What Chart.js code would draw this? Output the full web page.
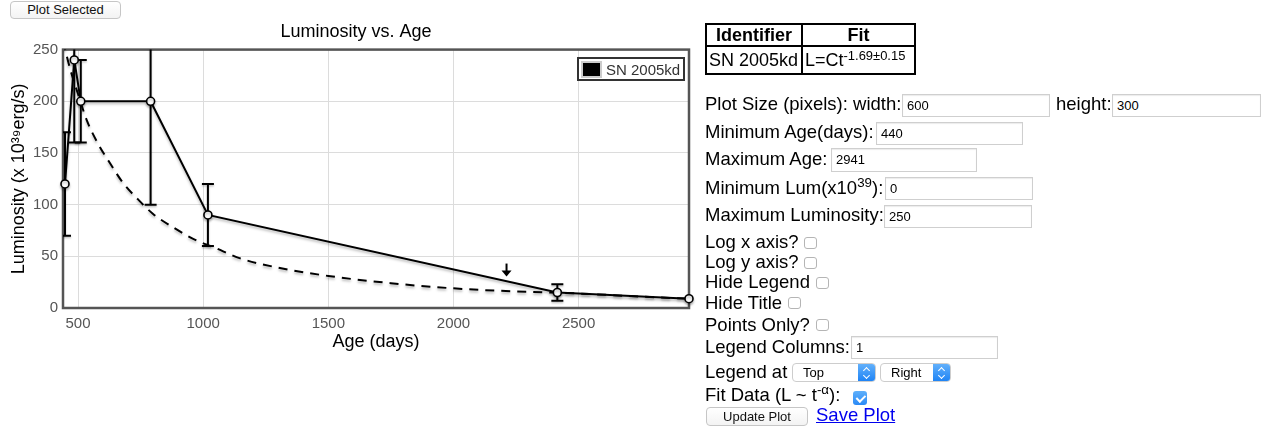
<!DOCTYPE html>
<html><head><meta charset="utf-8">
<script src="https://cdn.jsdelivr.net/npm/chart.js@4.4.0/dist/chart.umd.min.js"></script>
<style>
body{margin:0;width:1261px;height:427px;overflow:hidden;background:#fff;font-family:"Liberation Sans",Arial,Helvetica,sans-serif;position:relative;color:#000}
.btn{position:absolute;box-sizing:border-box;border:1px solid #c6c6c6;border-radius:4px;background:linear-gradient(#fff,#f3f3f3);font-size:13px;text-align:center;color:#111}
#cv{position:absolute;left:0;top:19px}
.legend{position:absolute;left:577px;top:57px;width:108px;height:24px;box-sizing:border-box;border:2px solid #333;background:#fff;font-size:15px;color:#333}
.legend .sw{position:absolute;left:2px;top:2px;width:21px;height:17px;box-sizing:border-box;border:2px solid #ccc;background:#000}
.legend .tx{position:absolute;left:27px;top:2px;line-height:17px;white-space:nowrap}
table{position:absolute;left:705px;top:23px;border-collapse:collapse;font-size:18px}
td,th{border:2px solid #000;padding:0 2px;white-space:nowrap}
th{font-weight:bold;height:20px;line-height:20px}
td{height:26px;line-height:20px}
sup{font-size:0.72em;line-height:0;vertical-align:0.5em}
.row{position:absolute;left:705px;font-size:18.5px;line-height:22px;white-space:nowrap}
.inp{position:absolute;box-sizing:border-box;border:1px solid #cfcfcf;box-shadow:inset 0 1px 1px rgba(0,0,0,0.08);font-size:13px;padding-left:4px;background:#fff;color:#000}
.cb{position:absolute;width:13px;height:12px;box-sizing:border-box;border:1px solid #b5b5b5;border-radius:3px;background:#fff}
.cbon{position:absolute;width:14px;height:14px;border-radius:3px;background:linear-gradient(#5fb0fb,#2a8af6)}
.cbon i{position:absolute;left:4.5px;top:1.5px;width:3.5px;height:7px;border-right:2px solid #fff;border-bottom:2px solid #fff;transform:rotate(45deg)}
.sel{position:absolute;box-sizing:border-box;border:1px solid #cdcdcd;border-radius:4px;background:#fff;font-size:13px;overflow:hidden}
.sel span{position:absolute;left:10px;top:1px}
.sel b{position:absolute;right:0;top:0;width:17px;height:100%;background:linear-gradient(#62b0fb,#1f84f5)}
.sel b:before,.sel b:after{content:"";position:absolute;left:5.5px;width:4px;height:4px;border-left:1.5px solid #fff;border-top:1.5px solid #fff}
.sel b:before{top:4px;transform:rotate(45deg)}
.sel b:after{top:9px;transform:rotate(225deg)}
a{color:#0000ee}
</style></head><body>
<div class="btn" style="left:10px;top:1px;width:111px;height:18px;line-height:16px">Plot Selected</div>
<canvas id="cv" width="712" height="345"></canvas>
<div class="legend"><div class="sw"></div><div class="tx">SN 2005kd</div></div>

<table>
<tr><th style="width:90px">Identifier</th><th style="width:107px">Fit</th></tr>
<tr><td>SN 2005kd</td><td>L=Ct<sup>-1.69±0.15</sup></td></tr>
</table>

<div class="row" style="top:93px">Plot Size (pixels): width:</div>
<div class="inp" style="left:902px;top:94px;width:148px;height:23px;line-height:21px">600</div>
<div class="row" style="left:1056px;top:93px">height:</div>
<div class="inp" style="left:1112px;top:94px;width:149px;height:23px;line-height:21px">300</div>

<div class="row" style="top:121px">Minimum Age(days):</div>
<div class="inp" style="left:876px;top:122px;width:147px;height:23px;line-height:21px">440</div>

<div class="row" style="top:148px">Maximum Age:</div>
<div class="inp" style="left:831px;top:148px;width:146px;height:24px;line-height:22px">2941</div>

<div class="row" style="top:177px">Minimum Lum(x10<sup>39</sup>):</div>
<div class="inp" style="left:885px;top:177px;width:148px;height:23px;line-height:21px">0</div>

<div class="row" style="top:204px">Maximum Luminosity:</div>
<div class="inp" style="left:884px;top:205px;width:148px;height:23px;line-height:21px">250</div>

<div class="row" style="top:231px">Log x axis?</div>
<div class="cb" style="left:804px;top:237px"></div>
<div class="row" style="top:251px">Log y axis?</div>
<div class="cb" style="left:804px;top:257px"></div>
<div class="row" style="top:271px">Hide Legend</div>
<div class="cb" style="left:816px;top:277px"></div>
<div class="row" style="top:292px">Hide Title</div>
<div class="cb" style="left:788px;top:297px"></div>
<div class="row" style="top:314px">Points Only?</div>
<div class="cb" style="left:816px;top:319px"></div>

<div class="row" style="top:336px">Legend Columns:</div>
<div class="inp" style="left:851px;top:336px;width:147px;height:23px;line-height:21px">1</div>

<div class="row" style="top:361px">Legend at</div>
<div class="sel" style="left:792px;top:363px;width:84px;height:19px"><span>Top</span><b></b></div>
<div class="sel" style="left:880px;top:363px;width:71px;height:19px"><span>Right</span><b></b></div>

<div class="row" style="top:384px">Fit Data (L ~ t<sup>-α</sup>):</div>
<div class="cbon" style="left:853px;top:391px"><i></i></div>

<div class="btn" style="left:706px;top:407px;width:102px;height:19px;line-height:17px">Update Plot</div>
<div class="row" style="left:816px;top:404px"><a href="#">Save Plot</a></div>

<script>
// ---- data ----
const ages    = [448, 485, 511, 790, 1019, 2415, 2941];
const lum     = [120, 240, 200, 200, 90, 15, 9];
const errLow  = [70, 160, 160, 100, 60, 7, null];
const errHigh = [170, 300, 240, 300, 120, 23, null];
const limitAges = [2212];
const limitLum  = [43];
const fitAges = [440, 470, 500, 536, 580, 628, 680, 736, 800, 880, 976, 1040, 1148, 1300, 1500, 1750, 2000, 2250, 2500, 2750, 2941];
const fitLum  = [258, 230, 207, 181, 159, 140, 121, 106, 91, 78, 65, 59, 48, 39, 31, 24, 19, 16, 14, 11, 9];
const xTicks = [500, 1000, 1500, 2000, 2500];
const yTicks = [0, 50, 100, 150, 200, 250];

Chart.defaults.font.family = '"Liberation Sans", Arial, Helvetica, sans-serif';

const boxAndErrors = {
  id: 'boxAndErrors',
  beforeDatasetsDraw(chart) {
    const {ctx, chartArea: a, scales: {x, y}} = chart;
    ctx.save();
    ctx.strokeStyle = '#555';
    ctx.lineWidth = 2.5;
    ctx.strokeRect(a.left, a.top, a.right - a.left, a.bottom - a.top);
    ctx.beginPath();
    ctx.rect(a.left, a.top, a.right - a.left, a.bottom - a.top);
    ctx.clip();
    ctx.shadowColor = 'rgba(0,0,0,0.25)';
    ctx.shadowBlur = 2; ctx.shadowOffsetY = 1.5;
    ctx.strokeStyle = '#000';
    ctx.lineWidth = 2;
    ages.forEach((t, i) => {
      if (errLow[i] == null) return;
      const px = x.getPixelForValue(t);
      const p1 = y.getPixelForValue(errLow[i]);
      const p2 = y.getPixelForValue(errHigh[i]);
      ctx.beginPath();
      ctx.moveTo(px, p1); ctx.lineTo(px, p2);
      ctx.moveTo(px - 6, p1); ctx.lineTo(px + 6, p1);
      ctx.moveTo(px - 6, p2); ctx.lineTo(px + 6, p2);
      ctx.stroke();
    });
    ctx.restore();
  },
  beforeDatasetDraw(chart, args) {
    const ctx = chart.ctx;
    ctx.save();
    ctx.shadowColor = 'rgba(0,0,0,0.28)';
    ctx.shadowBlur = 2.5; ctx.shadowOffsetY = 2;
  },
  afterDatasetDraw(chart) { chart.ctx.restore(); },
  afterDatasetsDraw(chart) {
    const {ctx, scales: {x, y}} = chart;
    ctx.save();
    ctx.fillStyle = '#000'; ctx.strokeStyle = '#000'; ctx.lineWidth = 2;
    limitAges.forEach((t, i) => {
      const px = x.getPixelForValue(t), py = y.getPixelForValue(limitLum[i]);
      ctx.beginPath(); ctx.moveTo(px, py); ctx.lineTo(px, py + 8); ctx.stroke();
      ctx.beginPath(); ctx.moveTo(px - 5, py + 7); ctx.lineTo(px + 5, py + 7); ctx.lineTo(px, py + 13); ctx.closePath(); ctx.fill();
    });
    ctx.restore();
  }
};

new Chart(document.getElementById('cv'), {
  type: 'line',
  data: {
    datasets: [
      {
        label: 'SN 2005kd',
        data: ages.map((t, i) => ({x: t, y: lum[i]})),
        borderColor: '#000', borderWidth: 2,
        pointRadius: 4, pointBorderWidth: 1.6,
        pointBackgroundColor: '#fff', pointBorderColor: '#000',
        tension: 0, clip: false
      },
      {
        label: 'fit',
        data: fitAges.map((t, i) => ({x: t, y: fitLum[i]})),
        borderColor: '#000', borderWidth: 2, borderDash: [9, 7],
        pointRadius: 0, tension: 0.4, cubicInterpolationMode: 'monotone', clip: 0
      }
    ]
  },
  options: {
    responsive: false, animation: false, devicePixelRatio: 1,
    layout: {padding: 0},
    plugins: {
      legend: {display: false}, tooltip: {enabled: false},
      title: {display: true, text: 'Luminosity vs. Age', color: '#000',
        font: {size: 18, weight: 'normal'}, padding: {top: 2, bottom: 7}}
    },
    scales: {
      x: {
        type: 'linear', min: 440, max: 2941,
        afterBuildTicks: s => { s.ticks = xTicks.map(v => ({value: v})); },
        afterFit: s => { s.height = 56; },
        grid: {color: '#dcdcdc', lineWidth: 1, drawTicks: false},
        border: {display: false},
        ticks: {color: '#555', font: {size: 15}, padding: 7, maxRotation: 0, autoSkip: false, callback: v => String(v)},
        title: {display: true, text: 'Age (days)', color: '#000', font: {size: 18}, padding: {top: 0, bottom: 11}}
      },
      y: {
        type: 'linear', min: 0, max: 250,
        afterBuildTicks: s => { s.ticks = yTicks.map(v => ({value: v})); },
        afterFit: s => { s.width = 63; },
        grid: {color: '#dcdcdc', lineWidth: 1, drawTicks: false},
        border: {display: false},
        ticks: {color: '#555', font: {size: 15}, padding: 5, callback: v => String(v)},
        title: {display: true, text: 'Luminosity (x 10³⁹erg/s)', color: '#000', font: {size: 18}, padding: {top: 8, bottom: 0}}
      },
      yR: {
        position: 'right', display: true,
        afterFit: s => { s.width = 23; },
        grid: {display: false}, border: {display: false},
        ticks: {display: false}
      }
    }
  },
  plugins: [boxAndErrors]
});
</script>
</body></html>
